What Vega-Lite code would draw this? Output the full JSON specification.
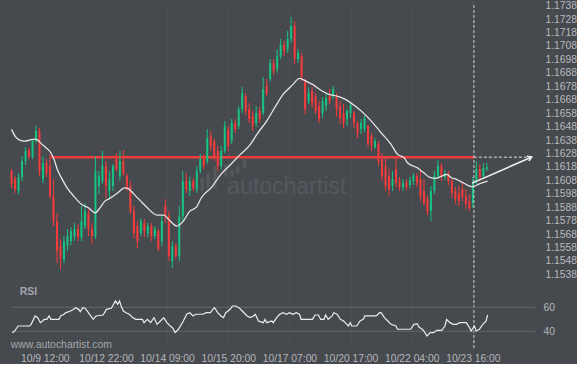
{
"$schema":"https://vega.github.io/schema/vega-lite/v6.json",
"width":540,"height":348,"padding":0,"background":"#46494e",
"config":{"view":{"stroke":null},"axis":{"labelFont":"Liberation Sans","labelFontSize":10.3,"labelColor":"#b4b7ba","labelOverlap":false},"text":{"font":"Liberation Sans"}},
"datasets":{
"candles":[
{"i":0,"o":1.16148,"h":1.16163,"l":1.16022,"c":1.16052},
{"i":2,"o":1.16089,"h":1.16111,"l":1.15985,"c":1.16014},
{"i":4,"o":1.16000,"h":1.16133,"l":1.15977,"c":1.16104},
{"i":6,"o":1.16104,"h":1.16260,"l":1.16074,"c":1.16223},
{"i":8,"o":1.16223,"h":1.16328,"l":1.16193,"c":1.16298},
{"i":10,"o":1.16305,"h":1.16320,"l":1.16238,"c":1.16253},
{"i":12,"o":1.16253,"h":1.16387,"l":1.16238,"c":1.16372},
{"i":14,"o":1.16372,"h":1.16484,"l":1.16357,"c":1.16447},
{"i":16,"o":1.16447,"h":1.16469,"l":1.16111,"c":1.16148},
{"i":18,"o":1.16089,"h":1.16260,"l":1.16059,"c":1.16208},
{"i":20,"o":1.16208,"h":1.16238,"l":1.16104,"c":1.16133},
{"i":22,"o":1.16186,"h":1.16275,"l":1.15940,"c":1.15962},
{"i":24,"o":1.15962,"h":1.16089,"l":1.15739,"c":1.15776},
{"i":26,"o":1.15776,"h":1.15836,"l":1.15463,"c":1.15553},
{"i":28,"o":1.15590,"h":1.15642,"l":1.15419,"c":1.15493},
{"i":30,"o":1.15493,"h":1.15664,"l":1.15463,"c":1.15627},
{"i":32,"o":1.15590,"h":1.15717,"l":1.15553,"c":1.15664},
{"i":34,"o":1.15627,"h":1.15731,"l":1.15597,"c":1.15702},
{"i":36,"o":1.15664,"h":1.15761,"l":1.15627,"c":1.15717},
{"i":38,"o":1.15717,"h":1.15754,"l":1.15627,"c":1.15657},
{"i":40,"o":1.15657,"h":1.15888,"l":1.15627,"c":1.15776},
{"i":42,"o":1.15739,"h":1.15910,"l":1.15717,"c":1.15850},
{"i":44,"o":1.15836,"h":1.15865,"l":1.15664,"c":1.15717},
{"i":46,"o":1.15717,"h":1.15761,"l":1.15605,"c":1.15664},
{"i":48,"o":1.15664,"h":1.16260,"l":1.15642,"c":1.16148},
{"i":50,"o":1.16037,"h":1.16148,"l":1.15977,"c":1.16111},
{"i":52,"o":1.16074,"h":1.16298,"l":1.16052,"c":1.16186},
{"i":54,"o":1.16186,"h":1.16223,"l":1.15947,"c":1.16037},
{"i":56,"o":1.16000,"h":1.16148,"l":1.15947,"c":1.16089},
{"i":58,"o":1.16037,"h":1.16201,"l":1.16000,"c":1.16186},
{"i":60,"o":1.16238,"h":1.16283,"l":1.16148,"c":1.16163},
{"i":62,"o":1.16111,"h":1.16298,"l":1.16074,"c":1.16223},
{"i":64,"o":1.16223,"h":1.16305,"l":1.16111,"c":1.16133},
{"i":66,"o":1.16111,"h":1.16133,"l":1.16000,"c":1.16014},
{"i":68,"o":1.16037,"h":1.16074,"l":1.15828,"c":1.15850},
{"i":70,"o":1.15850,"h":1.15888,"l":1.15649,"c":1.15687},
{"i":72,"o":1.15739,"h":1.15776,"l":1.15575,"c":1.15627},
{"i":74,"o":1.15687,"h":1.15798,"l":1.15664,"c":1.15776},
{"i":76,"o":1.15761,"h":1.15791,"l":1.15657,"c":1.15702},
{"i":78,"o":1.15687,"h":1.15761,"l":1.15657,"c":1.15739},
{"i":80,"o":1.15739,"h":1.15761,"l":1.15627,"c":1.15664},
{"i":82,"o":1.15664,"h":1.15739,"l":1.15642,"c":1.15717},
{"i":84,"o":1.15702,"h":1.15717,"l":1.15553,"c":1.15567},
{"i":86,"o":1.15627,"h":1.15813,"l":1.15590,"c":1.15776},
{"i":88,"o":1.15888,"h":1.15940,"l":1.15761,"c":1.15813},
{"i":90,"o":1.15813,"h":1.15850,"l":1.15478,"c":1.15515},
{"i":92,"o":1.15478,"h":1.15627,"l":1.15426,"c":1.15590},
{"i":94,"o":1.15590,"h":1.15612,"l":1.15493,"c":1.15515},
{"i":96,"o":1.15515,"h":1.15888,"l":1.15478,"c":1.15813},
{"i":98,"o":1.15813,"h":1.16148,"l":1.15776,"c":1.16074},
{"i":100,"o":1.16074,"h":1.16133,"l":1.15985,"c":1.16014},
{"i":102,"o":1.16000,"h":1.16104,"l":1.15962,"c":1.16074},
{"i":104,"o":1.16074,"h":1.16096,"l":1.16000,"c":1.16022},
{"i":106,"o":1.16014,"h":1.16186,"l":1.15985,"c":1.16148},
{"i":108,"o":1.16148,"h":1.16275,"l":1.16133,"c":1.16238},
{"i":110,"o":1.16238,"h":1.16275,"l":1.16163,"c":1.16186},
{"i":112,"o":1.16223,"h":1.16461,"l":1.16201,"c":1.16394},
{"i":114,"o":1.16409,"h":1.16447,"l":1.16298,"c":1.16335},
{"i":116,"o":1.16372,"h":1.16387,"l":1.16223,"c":1.16260},
{"i":118,"o":1.16298,"h":1.16335,"l":1.16148,"c":1.16186},
{"i":120,"o":1.16186,"h":1.16335,"l":1.16163,"c":1.16298},
{"i":122,"o":1.16298,"h":1.16521,"l":1.16283,"c":1.16484},
{"i":124,"o":1.16461,"h":1.16484,"l":1.16298,"c":1.16335},
{"i":126,"o":1.16372,"h":1.16536,"l":1.16350,"c":1.16506},
{"i":128,"o":1.16506,"h":1.16536,"l":1.16432,"c":1.16461},
{"i":130,"o":1.16484,"h":1.16633,"l":1.16461,"c":1.16610},
{"i":132,"o":1.16610,"h":1.16774,"l":1.16581,"c":1.16730},
{"i":134,"o":1.16707,"h":1.16730,"l":1.16566,"c":1.16596},
{"i":136,"o":1.16610,"h":1.16655,"l":1.16506,"c":1.16536},
{"i":138,"o":1.16558,"h":1.16596,"l":1.16447,"c":1.16484},
{"i":140,"o":1.16506,"h":1.16633,"l":1.16476,"c":1.16581},
{"i":142,"o":1.16596,"h":1.16625,"l":1.16506,"c":1.16536},
{"i":144,"o":1.16581,"h":1.16849,"l":1.16566,"c":1.16759},
{"i":146,"o":1.16782,"h":1.16834,"l":1.16707,"c":1.16730},
{"i":148,"o":1.16834,"h":1.16983,"l":1.16819,"c":1.16953},
{"i":150,"o":1.16953,"h":1.16983,"l":1.16864,"c":1.16894},
{"i":152,"o":1.16908,"h":1.17057,"l":1.16879,"c":1.17005},
{"i":154,"o":1.17005,"h":1.17132,"l":1.16983,"c":1.17087},
{"i":156,"o":1.17087,"h":1.17117,"l":1.17005,"c":1.17043},
{"i":158,"o":1.17057,"h":1.17191,"l":1.17028,"c":1.17132},
{"i":160,"o":1.17132,"h":1.17296,"l":1.17102,"c":1.17229},
{"i":162,"o":1.17229,"h":1.17266,"l":1.16946,"c":1.16983},
{"i":164,"o":1.16983,"h":1.17057,"l":1.16953,"c":1.17028},
{"i":166,"o":1.17005,"h":1.17028,"l":1.16819,"c":1.16849},
{"i":168,"o":1.16819,"h":1.16834,"l":1.16573,"c":1.16610},
{"i":170,"o":1.16670,"h":1.16774,"l":1.16648,"c":1.16730},
{"i":172,"o":1.16744,"h":1.16774,"l":1.16618,"c":1.16655},
{"i":174,"o":1.16707,"h":1.16730,"l":1.16573,"c":1.16596},
{"i":176,"o":1.16633,"h":1.16670,"l":1.16506,"c":1.16536},
{"i":178,"o":1.16581,"h":1.16700,"l":1.16543,"c":1.16670},
{"i":180,"o":1.16633,"h":1.16730,"l":1.16596,"c":1.16692},
{"i":182,"o":1.16707,"h":1.16759,"l":1.16648,"c":1.16670},
{"i":184,"o":1.16707,"h":1.16782,"l":1.16685,"c":1.16759},
{"i":186,"o":1.16707,"h":1.16730,"l":1.16551,"c":1.16610},
{"i":188,"o":1.16633,"h":1.16670,"l":1.16499,"c":1.16543},
{"i":190,"o":1.16581,"h":1.16648,"l":1.16469,"c":1.16506},
{"i":192,"o":1.16536,"h":1.16610,"l":1.16484,"c":1.16596},
{"i":194,"o":1.16581,"h":1.16655,"l":1.16543,"c":1.16640},
{"i":196,"o":1.16581,"h":1.16596,"l":1.16469,"c":1.16506},
{"i":198,"o":1.16506,"h":1.16521,"l":1.16394,"c":1.16432},
{"i":200,"o":1.16461,"h":1.16536,"l":1.16424,"c":1.16506},
{"i":202,"o":1.16461,"h":1.16566,"l":1.16439,"c":1.16543},
{"i":204,"o":1.16484,"h":1.16491,"l":1.16328,"c":1.16357},
{"i":206,"o":1.16409,"h":1.16432,"l":1.16298,"c":1.16335},
{"i":208,"o":1.16328,"h":1.16394,"l":1.16313,"c":1.16372},
{"i":210,"o":1.16350,"h":1.16372,"l":1.16186,"c":1.16223},
{"i":212,"o":1.16238,"h":1.16283,"l":1.16074,"c":1.16111},
{"i":214,"o":1.16186,"h":1.16260,"l":1.16000,"c":1.16037},
{"i":216,"o":1.16111,"h":1.16163,"l":1.15962,"c":1.16014},
{"i":218,"o":1.16037,"h":1.16148,"l":1.16000,"c":1.16089},
{"i":220,"o":1.16163,"h":1.16253,"l":1.16029,"c":1.16059},
{"i":222,"o":1.16074,"h":1.16104,"l":1.16000,"c":1.16029},
{"i":224,"o":1.16029,"h":1.16089,"l":1.16000,"c":1.16059},
{"i":226,"o":1.16067,"h":1.16089,"l":1.16007,"c":1.16029},
{"i":228,"o":1.16044,"h":1.16104,"l":1.16022,"c":1.16081},
{"i":230,"o":1.16074,"h":1.16133,"l":1.16044,"c":1.16111},
{"i":232,"o":1.16111,"h":1.16133,"l":1.16029,"c":1.16059},
{"i":234,"o":1.16089,"h":1.16163,"l":1.15925,"c":1.15962},
{"i":236,"o":1.16000,"h":1.16089,"l":1.15888,"c":1.15910},
{"i":238,"o":1.15940,"h":1.15970,"l":1.15821,"c":1.15850},
{"i":240,"o":1.15850,"h":1.16037,"l":1.15776,"c":1.16000},
{"i":242,"o":1.16000,"h":1.16148,"l":1.15977,"c":1.16111},
{"i":244,"o":1.16111,"h":1.16230,"l":1.16089,"c":1.16186},
{"i":246,"o":1.16186,"h":1.16208,"l":1.16074,"c":1.16111},
{"i":248,"o":1.16104,"h":1.16156,"l":1.16081,"c":1.16133},
{"i":250,"o":1.16133,"h":1.16148,"l":1.16044,"c":1.16074},
{"i":252,"o":1.16074,"h":1.16089,"l":1.15947,"c":1.15985},
{"i":254,"o":1.16000,"h":1.16029,"l":1.15903,"c":1.15940},
{"i":256,"o":1.15985,"h":1.16037,"l":1.15888,"c":1.15925},
{"i":258,"o":1.16014,"h":1.16059,"l":1.15925,"c":1.15955},
{"i":260,"o":1.15962,"h":1.16014,"l":1.15865,"c":1.15903},
{"i":262,"o":1.15925,"h":1.15977,"l":1.15850,"c":1.15873},
{"i":264,"o":1.15910,"h":1.16104,"l":1.15873,"c":1.16059},
{"i":266,"o":1.16074,"h":1.16223,"l":1.16052,"c":1.16163},
{"i":268,"o":1.16163,"h":1.16201,"l":1.16074,"c":1.16104},
{"i":270,"o":1.16111,"h":1.16208,"l":1.16089,"c":1.16171},
{"i":272,"o":1.16163,"h":1.16208,"l":1.16148,"c":1.16178}
],
"ma":[{"i":0,"m":1.16459},{"i":2,"m":1.16409},{"i":4.7,"m":1.16379},{"i":7.5,"m":1.16372},{"i":10.3,"m":1.16379},{"i":13.1,"m":1.16387},{"i":15,"m":1.16379},{"i":16.9,"m":1.16355},{"i":19.7,"m":1.16322},{"i":22.5,"m":1.16285},{"i":24.3,"m":1.16236},{"i":26.2,"m":1.16161},{"i":29,"m":1.16087},{"i":31.8,"m":1.16024},{"i":35.6,"m":1.15962},{"i":40.2,"m":1.159},{"i":44,"m":1.15875},{"i":47.8,"m":1.15838},{"i":50.6,"m":1.15875},{"i":53.4,"m":1.15925},{"i":56.2,"m":1.15945},{"i":60.8,"m":1.15987},{"i":64.6,"m":1.16024},{"i":66.5,"m":1.1602},{"i":70.2,"m":1.15975},{"i":73.9,"m":1.15925},{"i":77.7,"m":1.15875},{"i":83.3,"m":1.15821},{"i":87.1,"m":1.15821},{"i":89.9,"m":1.15789},{"i":94.5,"m":1.15739},{"i":98.3,"m":1.15776},{"i":102,"m":1.1585},{"i":105.8,"m":1.1588},{"i":108.6,"m":1.1595},{"i":114.2,"m":1.16024},{"i":119.8,"m":1.16124},{"i":125.4,"m":1.16198},{"i":131,"m":1.16273},{"i":136.7,"m":1.16347},{"i":140.4,"m":1.16422},{"i":146,"m":1.16521},{"i":151.7,"m":1.16645},{"i":155.4,"m":1.1672},{"i":159.1,"m":1.16769},{"i":161,"m":1.16794},{"i":164.8,"m":1.16839},{"i":168.5,"m":1.16819},{"i":172.2,"m":1.16794},{"i":177.8,"m":1.16745},{"i":181.6,"m":1.1672},{"i":186.3,"m":1.16707},{"i":191,"m":1.16683},{"i":196.6,"m":1.16633},{"i":202.2,"m":1.16571},{"i":205.9,"m":1.16521},{"i":211.5,"m":1.16434},{"i":217.2,"m":1.16347},{"i":220.9,"m":1.16273},{"i":224.7,"m":1.16248},{"i":226.6,"m":1.16211},{"i":232.2,"m":1.16173},{"i":235.9,"m":1.16136},{"i":239.7,"m":1.16099},{"i":242.4,"m":1.16094},{"i":246.2,"m":1.16111},{"i":249,"m":1.16124},{"i":251.8,"m":1.16099},{"i":254.6,"m":1.16087},{"i":258.4,"m":1.16062},{"i":262.1,"m":1.16037},{"i":264,"m":1.16033},{"i":267.7,"m":1.16054},{"i":272.4,"m":1.16074}],
"rsi":[{"i":0.4,"r":38.9},{"i":1.9,"r":40.3},{"i":3.7,"r":44.4},{"i":10.3,"r":44.4},{"i":11.2,"r":45.8},{"i":13.5,"r":52.8},{"i":15,"r":51.4},{"i":16.5,"r":47.2},{"i":17.8,"r":48.6},{"i":18.7,"r":50},{"i":20.2,"r":50},{"i":21.5,"r":52.8},{"i":22.5,"r":50},{"i":27.1,"r":50},{"i":28.1,"r":52.8},{"i":30,"r":54.2},{"i":30.9,"r":55.5},{"i":32.8,"r":56.4},{"i":33.7,"r":56.9},{"i":35.6,"r":58.3},{"i":36.5,"r":59.7},{"i":38.4,"r":58.3},{"i":39.3,"r":56.4},{"i":40.8,"r":59.7},{"i":42.1,"r":59.2},{"i":44,"r":55.5},{"i":45.3,"r":52.8},{"i":46.8,"r":50},{"i":48.3,"r":52.8},{"i":52.4,"r":53.6},{"i":54.3,"r":58.3},{"i":57.1,"r":59.2},{"i":58.4,"r":62.5},{"i":59.5,"r":65.3},{"i":60.7,"r":62.5},{"i":61.8,"r":65.3},{"i":62.7,"r":61.1},{"i":64,"r":56.9},{"i":65.5,"r":55.5},{"i":67.4,"r":54.2},{"i":69.3,"r":51.4},{"i":71.1,"r":50},{"i":74.9,"r":50},{"i":75.8,"r":47.2},{"i":77.7,"r":50},{"i":79.6,"r":47.2},{"i":81.5,"r":51.4},{"i":83.3,"r":45.8},{"i":85.2,"r":48.6},{"i":87.1,"r":51.4},{"i":88.9,"r":47.2},{"i":90.8,"r":44.4},{"i":92.1,"r":43},{"i":93.6,"r":38.9},{"i":95.5,"r":41.7},{"i":98.3,"r":48.6},{"i":100.2,"r":54.2},{"i":102,"r":55.5},{"i":103.9,"r":52.8},{"i":105.4,"r":54.2},{"i":109.5,"r":54.2},{"i":111.4,"r":55.5},{"i":113.8,"r":55.5},{"i":115.2,"r":58.3},{"i":116.1,"r":59.7},{"i":118,"r":55.5},{"i":119.8,"r":52.8},{"i":121.3,"r":51.4},{"i":122.6,"r":55.5},{"i":125.1,"r":58.3},{"i":126.4,"r":61.1},{"i":128.2,"r":61.1},{"i":130.1,"r":59.7},{"i":132,"r":56.9},{"i":134.8,"r":52.8},{"i":136.7,"r":51.4},{"i":138.5,"r":52.8},{"i":139.5,"r":54.2},{"i":141.3,"r":48.6},{"i":144.1,"r":47.2},{"i":145.1,"r":50},{"i":146,"r":47.2},{"i":148.9,"r":48.6},{"i":149.8,"r":47.2},{"i":151.7,"r":51.4},{"i":153.5,"r":54.2},{"i":155.4,"r":55.5},{"i":157.3,"r":54.2},{"i":159.1,"r":55.5},{"i":161,"r":54.2},{"i":162.9,"r":55.5},{"i":164.8,"r":54.2},{"i":165.7,"r":50},{"i":172.2,"r":50},{"i":173.7,"r":53.6},{"i":175.6,"r":53.6},{"i":176.9,"r":50},{"i":178.8,"r":50},{"i":179.7,"r":53.6},{"i":181.2,"r":50},{"i":183.5,"r":52.8},{"i":184.4,"r":55.5},{"i":186.3,"r":54.2},{"i":188.2,"r":50},{"i":190,"r":48.6},{"i":191.9,"r":45.8},{"i":192.8,"r":44.4},{"i":193.8,"r":47.2},{"i":194.7,"r":44.4},{"i":197.5,"r":44.4},{"i":199.4,"r":48.6},{"i":201.3,"r":50},{"i":202.2,"r":52.8},{"i":208.7,"r":52.8},{"i":210.6,"r":55.5},{"i":211.5,"r":55.5},{"i":213.4,"r":51.4},{"i":215.3,"r":48.6},{"i":217.2,"r":45.8},{"i":220,"r":44.4},{"i":220.9,"r":41.7},{"i":228.4,"r":41.7},{"i":230.3,"r":45.8},{"i":232.2,"r":46.4},{"i":233.1,"r":43.6},{"i":235,"r":41.7},{"i":235.9,"r":40.3},{"i":237.8,"r":36.1},{"i":239.6,"r":38.9},{"i":241.5,"r":38.9},{"i":243.4,"r":40.8},{"i":246.2,"r":40.8},{"i":248,"r":44.4},{"i":249,"r":50},{"i":250.9,"r":47.2},{"i":252.8,"r":45.8},{"i":254.6,"r":45.8},{"i":256.5,"r":47.2},{"i":260.3,"r":47.2},{"i":262.1,"r":43},{"i":263,"r":40.3},{"i":264.9,"r":44.4},{"i":265.9,"r":40.3},{"i":267.7,"r":41.7},{"i":269.7,"r":45.8},{"i":271.6,"r":48.6},{"i":272.4,"r":53.6}],
"logo":[{"i":109.1,"lo":1.16000,"hi":1.16104},{"i":112.5,"lo":1.16000,"hi":1.16133},{"i":116.4,"lo":1.16015,"hi":1.16186},{"i":122.6,"lo":1.16104,"hi":1.16201},{"i":126,"lo":1.16104,"hi":1.16156},{"i":129.4,"lo":1.16133,"hi":1.16186},{"i":133.3,"lo":1.16171,"hi":1.16238}],
"levels":[{"v":60},{"v":40}]
},
"layer":[
{"layer":[
{"data":{"name":"logo"},"mark":{"type":"bar","width":3.5,"cornerRadius":1.5,"color":"#54575c"},
 "encoding":{
  "x":{"field":"i","type":"quantitative","scale":{"domain":[-3.75,299.56],"nice":false,"zero":false},
   "axis":{"values":[19,54,89,124,159,194,229,264],"tickCount":20,"title":null,"ticks":false,"domain":false,"grid":true,"gridColor":"#4b4e53","labelPadding":4,"labelFlush":false,"labelOverlap":false,
    "labelExpr":"datum.value==19?'10/9 12:00':datum.value==54?'10/12 22:00':datum.value==89?'10/14 09:00':datum.value==124?'10/15 20:00':datum.value==159?'10/17 07:00':datum.value==194?'10/20 17:00':datum.value==229?'10/22 04:00':'10/23 16:00'"}},
  "y":{"field":"lo","type":"quantitative","scale":{"domain":[1.148238,1.17415],"nice":false,"zero":false},
   "axis":{"orient":"right","values":[1.1538,1.1548,1.1558,1.1568,1.1578,1.1588,1.1598,1.1608,1.1618,1.1628,1.1638,1.1648,1.1658,1.1668,1.1678,1.1688,1.1698,1.1708,1.1718,1.1728,1.1738],"tickCount":40,"format":".4f","title":null,"ticks":false,"domain":false,"grid":false,"labelPadding":5,"labelAlign":"left","labelOverlap":false,"labelBound":false,"labelColor":"#b8bbbe"}},
  "y2":{"field":"hi"}}},
{"data":{"values":[{}]},"mark":{"type":"text","text":"autochartist","fontSize":23,"color":"#55585d","align":"center","baseline":"middle"},
 "encoding":{"x":{"datum":157.5},"y":{"datum":1.16032}}},
{"data":{"values":[{}]},"mark":{"type":"rule","color":"#f23b3b","strokeWidth":2.5},
 "encoding":{"x":{"datum":22.5},"x2":{"datum":264.6},"y":{"datum":1.16252}}},
{"data":{"name":"candles"},"mark":{"type":"rule","strokeWidth":1},
 "encoding":{"x":{"field":"i","type":"quantitative"},"y":{"field":"l","type":"quantitative"},"y2":{"field":"h"},
  "color":{"condition":{"test":"datum.c >= datum.o","value":"#17c383"},"value":"#f53b3b"}}},
{"data":{"name":"candles"},"mark":{"type":"bar","width":2},
 "encoding":{"x":{"field":"i","type":"quantitative"},"y":{"field":"o","type":"quantitative"},"y2":{"field":"c"},
  "color":{"condition":{"test":"datum.c >= datum.o","value":"#17c383"},"value":"#f53b3b"}}},
{"data":{"name":"ma"},"mark":{"type":"line","color":"#e4e4e4","strokeWidth":1.3,"interpolate":"monotone"},
 "encoding":{"x":{"field":"i","type":"quantitative"},"y":{"field":"m","type":"quantitative"}}},
{"data":{"values":[{}]},"mark":{"type":"rule","color":"#d2d2d2","strokeWidth":1,"strokeDash":[3,2]},
 "encoding":{"x":{"datum":264.6},"y":{"datum":1.17385},"y2":{"datum":1.1483}}},
{"data":{"values":[{}]},"mark":{"type":"rule","color":"#dddddd","strokeWidth":1,"strokeDash":[3,2]},
 "encoding":{"x":{"datum":264.6},"x2":{"datum":297.2},"y":{"datum":1.16252}}},
{"data":{"values":[{}]},"mark":{"type":"rule","color":"#f0f0f0","strokeWidth":1.5},
 "encoding":{"x":{"datum":263.6},"y":{"datum":1.16059},"x2":{"datum":297.7},"y2":{"datum":1.16253}}},
{"data":{"values":[{}]},"mark":{"type":"point","shape":"M-1,-0.6L0,0L-1,0.6","filled":false,"stroke":"#f0f0f0","strokeWidth":1.5,"size":70,"angle":338,"opacity":1},
 "encoding":{"x":{"datum":297.7},"y":{"datum":1.16253}}}
]},
{"layer":[
{"data":{"name":"levels"},"mark":{"type":"rule","color":"#63666a","strokeWidth":1},
 "encoding":{"x":{"datum":0.2},"x2":{"datum":299.56},
  "y":{"field":"v","type":"quantitative","scale":{"domain":[25.25,315.25],"nice":false,"zero":false},
   "axis":{"orient":"right","values":[40,60],"title":null,"ticks":false,"domain":false,"grid":false,"labelPadding":3,"labelAlign":"left","labelColor":"#b4b7ba"}}}},
{"data":{"name":"rsi"},"mark":{"type":"line","color":"#ececec","strokeWidth":1.2},
 "encoding":{"x":{"field":"i","type":"quantitative"},"y":{"field":"r","type":"quantitative"}}},
{"data":{"values":[{}]},"mark":{"type":"text","text":"RSI","fontSize":10.5,"fontWeight":"bold","color":"#a3a6aa","align":"left","baseline":"middle"},
 "encoding":{"x":{"datum":4.7},"y":{"datum":73}}},
{"data":{"values":[{}]},"mark":{"type":"text","text":"www.autochartist.com","fontSize":10.4,"color":"#a5a8ab","align":"left","baseline":"middle"},
 "encoding":{"x":{"datum":-0.4},"y":{"datum":28.3}}}
]}
],
"resolve":{"scale":{"y":"independent"},"axis":{"y":"independent"}}
}
